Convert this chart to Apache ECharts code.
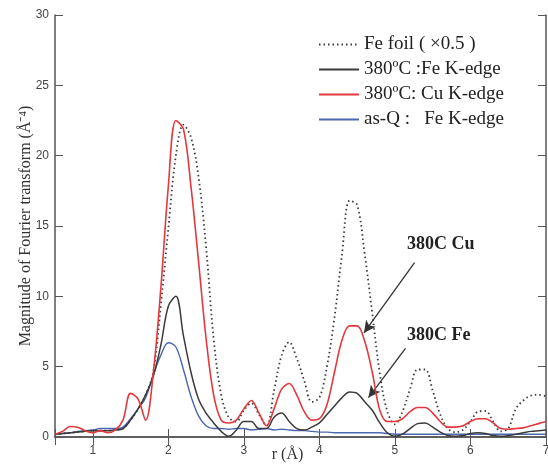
<!DOCTYPE html>
<html style="height: 100%">

<head>
	<meta charset="utf-8">
</head>

<body style="height: 100%; margin: 0; background: #fff">
	<div id="container" style="width: 548px; height: 465px;"></div>

	<script type="text/javascript" src="https://cdn.jsdelivr.net/npm/echarts@6/dist/echarts.min.js"></script>
	<script type="text/javascript">
		// r grid (Å), one value every 0.1 from 0.5 to 7.0
		let rValues = [];
		for (let i = 0; i <= 65; i++) rValues.push(Math.round((0.5 + i * 0.1) * 10) / 10);

		let feFoil = [0.2, 0.25, 0.3, 0.35, 0.4, 0.45, 0.45, 0.45, 0.5, 0.6,
			1.2, 2.0, 3.0, 4.6, 9.3, 14.8, 20.0, 22.2, 21.3, 18.5,
			13.5, 7.0, 3.0, 1.4, 1.1, 1.9, 2.4, 1.6, 0.8, 3.3,
			5.8, 6.75, 5.6, 4.0, 2.5, 2.8, 5.0, 8.5, 13.0, 16.8,
			16.5, 13.0, 8.8, 4.5, 1.8, 0.9, 1.8, 3.4, 4.8, 4.8,
			3.3, 1.6, 0.6, 0.35, 0.5, 1.1, 1.8, 1.85, 1.1, 0.4,
			0.6, 2.0, 2.6, 2.95, 3.0, 2.9];
		let fe380 = [0.2, 0.25, 0.3, 0.35, 0.4, 0.45, 0.45, 0.45, 0.5, 0.6,
			1.2, 2.0, 3.0, 4.3, 6.5, 9.3, 10.0, 7.2, 4.6, 2.7,
			1.7, 1.0, 0.4, 0.05, 0.5, 1.1, 1.1, 0.6, 0.6, 1.4,
			1.7, 1.1, 0.6, 0.5, 0.7, 1.0, 1.6, 2.2, 2.8, 3.2,
			3.1, 2.5, 1.9, 1.0, 0.3, 0.05, 0.2, 0.6, 0.95, 1.0,
			0.7, 0.35, 0.1, 0.05, 0.1, 0.25, 0.3, 0.25, 0.1, 0.05,
			0.1, 0.2, 0.3, 0.4, 0.45, 0.5];
		let cu380 = [0.2, 0.4, 0.75, 0.7, 0.45, 0.3, 0.45, 0.3, 0.5, 1.2,
			3.1, 2.7, 1.2, 4.5, 10.5, 17.8, 22.5, 21.9, 17.8, 12.5,
			7.0, 3.0, 1.2, 1.0, 1.2, 2.0, 2.6, 1.7, 0.8, 2.0,
			3.4, 3.8, 3.0, 1.8, 1.2, 1.3, 2.3, 4.6, 6.9, 7.9,
			7.9, 6.8, 4.6, 1.9, 1.1, 1.1, 1.3, 1.8, 2.1, 2.1,
			1.7, 1.1, 0.7, 0.7, 0.8, 1.1, 1.3, 1.3, 1.0, 0.6,
			0.55, 0.6, 0.65, 0.8, 0.95, 1.1];
		let asQ = [0.2, 0.25, 0.3, 0.4, 0.45, 0.5, 0.6, 0.6, 0.6, 0.7,
			1.3, 2.0, 2.8, 4.4, 5.8, 6.7, 6.4, 4.8, 2.9, 1.5,
			0.8, 0.6, 0.6, 0.55, 0.6, 0.6, 0.5, 0.55, 0.6, 0.5,
			0.55, 0.5, 0.45, 0.45, 0.4, 0.35, 0.35, 0.3, 0.3, 0.3,
			0.3, 0.3, 0.3, 0.3, 0.25, 0.2, 0.2, 0.2, 0.2, 0.2,
			0.2, 0.2, 0.2, 0.2, 0.2, 0.2, 0.2, 0.2, 0.2, 0.2,
			0.2, 0.2, 0.2, 0.2, 0.2, 0.2];

		let seriesNames = ['Fe foil ( ×0.5 )', '380ºC :Fe K-edge', '380ºC: Cu K-edge', 'as-Q :   Fe K-edge'];
		let yTicks = [0, 5, 10, 15, 20, 25, 30];

		// annotations (data coordinates)
		let noteTexts = ['380C Cu', '380C Fe'];
		let notePos = [[5.16, 13.7], [5.16, 7.25]];
		let arrowFrom = [[5.26, 12.4], [5.14, 6.3]];
		let arrowTo = [[4.59, 7.4], [4.65, 2.8]];

		function pairs(ys) {
			return rValues.map(function (r, i) { return [r, ys[i]]; });
		}

		let dom = document.getElementById("container");
		let myChart = echarts.init(dom);

		let axisColor = '#555';
		let serif = '"Liberation Serif", "Times New Roman", serif';

		let option = {
			animation: false,
			backgroundColor: '#fff',
			grid: { left: 55, right: 2, top: 15, bottom: 28, outerBoundsMode: 'none' },
			legend: {
				orient: 'vertical',
				left: 313,
				top: 30,
				itemWidth: 40,
				itemHeight: 14,
				itemGap: 6,
				data: seriesNames,
				itemStyle: { opacity: 0 },
				textStyle: { fontFamily: serif, fontSize: 19, color: '#222' }
			},
			xAxis: [{
				type: 'value',
				min: 0.5,
				max: 7,
				minInterval: 1,
				maxInterval: 1,
				name: 'r (Å)',
				nameLocation: 'middle',
				nameGap: 10,
				nameMoveOverlap: false,
				nameTextStyle: { fontFamily: serif, fontSize: 16, color: '#333', padding: [0, 26, 0, 0] },
				axisLine: { lineStyle: { color: axisColor, width: 1.5 } },
				axisTick: { inside: true, length: 8, lineStyle: { color: axisColor } },
				axisLabel: {
					color: '#444', fontSize: 12, margin: 8,
					formatter: function (v) { return Number.isInteger(v) ? String(v) : ''; }
				},
				splitLine: { show: false }
			}, {
				type: 'value',
				position: 'top',
				min: 0.5,
				max: 7,
				minInterval: 1,
				maxInterval: 1,
				axisLine: { lineStyle: { color: axisColor, width: 1.5 } },
				axisTick: { inside: true, length: 8, lineStyle: { color: axisColor } },
				axisLabel: { show: false },
				splitLine: { show: false }
			}],
			yAxis: [{
				type: 'value',
				min: yTicks[0],
				max: yTicks[yTicks.length - 1],
				interval: 5,
				name: 'Magnitude of Fourier transform (Å⁻⁴)',
				nameLocation: 'middle',
				nameGap: 21,
				nameMoveOverlap: false,
				nameTextStyle: { fontFamily: serif, fontSize: 16, color: '#333' },
				axisLine: { show: true, lineStyle: { color: axisColor, width: 1.5 } },
				axisTick: { show: true, inside: true, length: 8, lineStyle: { color: axisColor } },
				axisLabel: { color: '#444', fontSize: 12, margin: 6 },
				splitLine: { show: false }
			}, {
				type: 'value',
				position: 'right',
				min: 0,
				max: 30,
				interval: 5,
				axisLine: { show: true, lineStyle: { color: axisColor, width: 1.5 } },
				axisTick: { show: true, inside: true, length: 8, lineStyle: { color: axisColor } },
				axisLabel: { show: false },
				splitLine: { show: false }
			}],
			series: [{
				name: seriesNames[0],
				type: 'line',
				data: pairs(feFoil),
				smooth: 0.35,
				symbol: 'none',
				lineStyle: { color: '#3a3a3a', width: 1.8, type: [1.5, 3] },
				itemStyle: { color: '#3a3a3a' },
				z: 3
			}, {
				name: seriesNames[1],
				type: 'line',
				data: pairs(fe380),
				smooth: 0.35,
				symbol: 'none',
				lineStyle: { color: '#3b3b3b', width: 1.5 },
				itemStyle: { color: '#3b3b3b' },
				z: 4
			}, {
				name: seriesNames[2],
				type: 'line',
				data: pairs(cu380),
				smooth: 0.35,
				symbol: 'none',
				lineStyle: { color: '#e4383d', width: 1.6 },
				itemStyle: { color: '#e4383d' },
				z: 5
			}, {
				name: seriesNames[3],
				type: 'line',
				data: pairs(asQ),
				smooth: 0.35,
				symbol: 'none',
				lineStyle: { color: '#4a68b0', width: 1.4 },
				itemStyle: { color: '#4a68b0' },
				z: 2,
				markLine: {
					silent: true,
					symbol: ['none', 'arrow'],
					symbolSize: [9, 12],
					label: { show: false },
					lineStyle: { color: '#333', width: 1.3, type: 'solid' },
					data: arrowFrom.map(function (p, i) {
						return [{ coord: p }, { coord: arrowTo[i] }];
					})
				},
				markPoint: {
					silent: true,
					symbol: 'circle',
					symbolSize: 0,
					label: {
						show: true,
						position: 'right',
						distance: 0,
						formatter: '{b}',
						fontFamily: serif,
						fontWeight: 'bold',
						fontSize: 18,
						color: '#222'
					},
					data: noteTexts.map(function (t, i) {
						return { name: t, coord: notePos[i] };
					})
				}
			}]
		};

		myChart.setOption(option);
	</script>
</body>

</html>
